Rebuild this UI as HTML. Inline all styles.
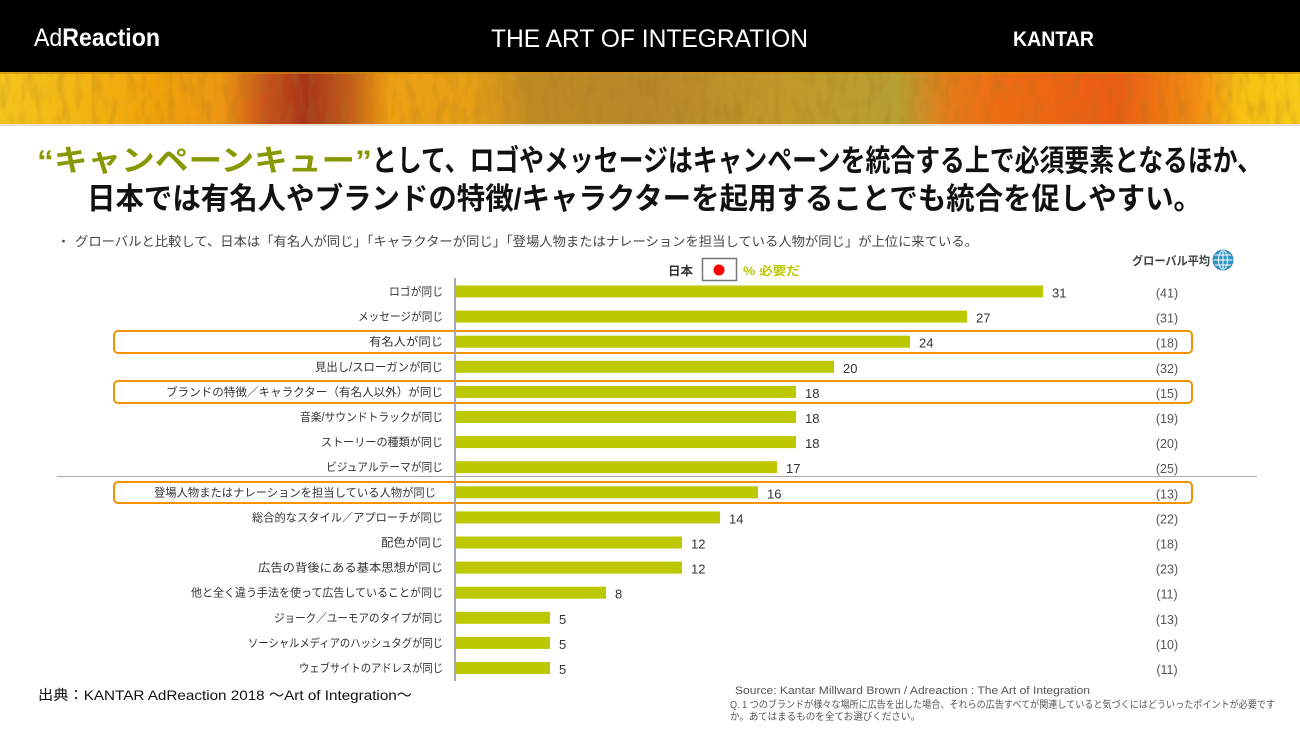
<!DOCTYPE html>
<html>
<head>
<meta charset="utf-8">
<style>
  html,body{margin:0;padding:0;background:#fff;}
  body{width:1300px;height:731px;overflow:hidden;}
  svg{display:block;}
  .jp{font-family:"Liberation Sans","Noto Sans CJK JP",sans-serif;}
</style>
</head>
<body>
<svg width="1300" height="731" viewBox="0 0 1300 731" xmlns="http://www.w3.org/2000/svg">
  <defs>
    <linearGradient id="paint" x1="0" y1="0" x2="1" y2="0">
      <stop offset="0" stop-color="#f5c41c"/>
      <stop offset="0.06" stop-color="#f3b612"/>
      <stop offset="0.12" stop-color="#f0a10a"/>
      <stop offset="0.17" stop-color="#ee9812"/>
      <stop offset="0.205" stop-color="#c8521a"/>
      <stop offset="0.235" stop-color="#a8341a"/>
      <stop offset="0.27" stop-color="#c45e18"/>
      <stop offset="0.30" stop-color="#efa012"/>
      <stop offset="0.36" stop-color="#e6a014"/>
      <stop offset="0.41" stop-color="#c08a22"/>
      <stop offset="0.50" stop-color="#b8882a"/>
      <stop offset="0.60" stop-color="#c29a28"/>
      <stop offset="0.69" stop-color="#b8a032"/>
      <stop offset="0.73" stop-color="#e47c18"/>
      <stop offset="0.77" stop-color="#f06c12"/>
      <stop offset="0.86" stop-color="#ec5c12"/>
      <stop offset="0.92" stop-color="#f28c12"/>
      <stop offset="0.955" stop-color="#f8c012"/>
      <stop offset="1" stop-color="#f8ca18"/>
    </linearGradient>
    <filter id="tex" x="0" y="0" width="100%" height="100%">
      <feTurbulence type="fractalNoise" baseFrequency="0.12 0.04" numOctaves="2" seed="4"/>
      <feColorMatrix type="matrix" values="0 0 0 0 0.35  0 0 0 0 0.18  0 0 0 0 0.02  0 0 0 1.6 -0.7"/>
    </filter>
  </defs>

  <!-- Header -->
  <rect x="0" y="0" width="1300" height="72" fill="#000"/>
  <text x="34" y="46" font-family="Liberation Sans, sans-serif" font-size="25" fill="#fff" textLength="126" lengthAdjust="spacingAndGlyphs"><tspan font-weight="normal">Ad</tspan><tspan font-weight="bold">Reaction</tspan></text>
  <text x="491" y="47" font-family="Liberation Sans, sans-serif" font-size="25" fill="#fff" textLength="317" lengthAdjust="spacingAndGlyphs">THE ART OF INTEGRATION</text>
  <text x="1013" y="46" font-family="Liberation Sans, sans-serif" font-size="21" font-weight="bold" fill="#fff" textLength="81" lengthAdjust="spacingAndGlyphs">KANTAR</text>

  <!-- Painting band -->
  <rect x="0" y="72" width="1300" height="53" fill="url(#paint)"/>
  <rect x="0" y="72" width="1300" height="53" filter="url(#tex)" opacity="0.45"/>
  <rect x="0" y="72" width="1300" height="2" fill="#c88a10" opacity="0.6"/>
  <rect x="0" y="124" width="1300" height="2" fill="#e8e0d0"/>

  <!-- Title -->
  <text class="jp" x="37" y="171" font-size="30" font-weight="bold" fill="#879800" textLength="335" lengthAdjust="spacingAndGlyphs">“キャンペーンキュー”</text>
  <text class="jp" x="372" y="171" font-size="30" font-weight="bold" fill="#111" textLength="890" lengthAdjust="spacingAndGlyphs">として、ロゴやメッセージはキャンペーンを統合する上で必須要素となるほか、</text>
  <text class="jp" x="87" y="209" font-size="30" font-weight="bold" fill="#111" textLength="1115" lengthAdjust="spacingAndGlyphs">日本では有名人やブランドの特徴/キャラクターを起用することでも統合を促しやすい。</text>

  <!-- Bullet -->
  <text class="jp" x="57" y="246" font-size="13" fill="#444">・</text>
  <text class="jp" x="75" y="246" font-size="13" fill="#444" textLength="903" lengthAdjust="spacingAndGlyphs">グローバルと比較して、日本は「有名人が同じ」「キャラクターが同じ」「登場人物またはナレーションを担当している人物が同じ」が上位に来ている。</text>

  <!-- Legend -->
  <text class="jp" x="668" y="275" font-size="12" font-weight="bold" fill="#333" textLength="25" lengthAdjust="spacingAndGlyphs">日本</text>
  <rect x="702.5" y="258.5" width="34" height="22" fill="#fff" stroke="#777" stroke-width="1.5"/>
  <circle cx="719" cy="270" r="5.5" fill="#f00"/>
  <text class="jp" x="743" y="275" font-size="12" font-weight="bold" fill="#bcc800" textLength="57" lengthAdjust="spacingAndGlyphs">% 必要だ</text>

  <text class="jp" x="1132" y="265" font-size="12" font-weight="bold" fill="#444" textLength="78" lengthAdjust="spacingAndGlyphs">グローバル平均</text>
  <g transform="translate(1223,260)">
    <circle r="10" fill="#2f96c6"/>
    <g fill="none" stroke="#fff" stroke-width="1">
      <ellipse rx="4.5" ry="9.5"/>
      <line x1="0" y1="-10" x2="0" y2="10"/>
      <line x1="-10" y1="0" x2="10" y2="0"/>
      <line x1="-8.7" y1="-5" x2="8.7" y2="-5"/>
      <line x1="-8.7" y1="5" x2="8.7" y2="5"/>
    </g>
    <circle r="10" fill="none" stroke="#1f7fae" stroke-width="0.8"/>
  </g>

  <!-- Separator line -->
  <line x1="57" y1="476.5" x2="1257" y2="476.5" stroke="#a8a8a8" stroke-width="1"/>

  <!-- Orange highlight boxes -->
  <g fill="none" stroke="#f39200" stroke-width="2">
    <rect x="114" y="331" width="1078" height="22" rx="4"/>
    <rect x="114" y="381" width="1078" height="22" rx="4"/>
    <rect x="114" y="482" width="1078" height="21" rx="4"/>
  </g>

  <!-- Bars -->
  <g fill="#bec800">
    <rect x="456" y="285.5" width="587" height="12"/>
    <rect x="456" y="310.6" width="511" height="12"/>
    <rect x="456" y="335.7" width="454" height="12"/>
    <rect x="456" y="360.8" width="378" height="12"/>
    <rect x="456" y="385.9" width="340" height="12"/>
    <rect x="456" y="411" width="340" height="12"/>
    <rect x="456" y="436.1" width="340" height="12"/>
    <rect x="456" y="461.2" width="321" height="12"/>
    <rect x="456" y="486.3" width="302" height="12"/>
    <rect x="456" y="511.4" width="264" height="12"/>
    <rect x="456" y="536.5" width="226" height="12"/>
    <rect x="456" y="561.6" width="226" height="12"/>
    <rect x="456" y="586.7" width="150" height="12"/>
    <rect x="456" y="611.8" width="94" height="12"/>
    <rect x="456" y="636.9" width="94" height="12"/>
    <rect x="456" y="662" width="94" height="12"/>
  </g>

  <!-- Axis -->
  <line x1="455" y1="278" x2="455" y2="681" stroke="#a0a8b6" stroke-width="2"/>

  <!-- Category labels -->
  <g class="jp" font-size="11.5" fill="#333">
    <text x="389" y="295.5" textLength="54" lengthAdjust="spacingAndGlyphs">ロゴが同じ</text>
    <text x="358" y="320.6" textLength="85" lengthAdjust="spacingAndGlyphs">メッセージが同じ</text>
    <text x="369" y="345.7" textLength="74" lengthAdjust="spacingAndGlyphs">有名人が同じ</text>
    <text x="315" y="370.8" textLength="128" lengthAdjust="spacingAndGlyphs">見出し/スローガンが同じ</text>
    <text x="166" y="395.9" textLength="277" lengthAdjust="spacingAndGlyphs">ブランドの特徴／キャラクター（有名人以外）が同じ</text>
    <text x="300" y="421" textLength="143" lengthAdjust="spacingAndGlyphs">音楽/サウンドトラックが同じ</text>
    <text x="321" y="446.1" textLength="122" lengthAdjust="spacingAndGlyphs">ストーリーの種類が同じ</text>
    <text x="326" y="471.2" textLength="117" lengthAdjust="spacingAndGlyphs">ビジュアルテーマが同じ</text>
    <text x="154" y="496.3" textLength="282" lengthAdjust="spacingAndGlyphs">登場人物またはナレーションを担当している人物が同じ</text>
    <text x="252" y="521.4" textLength="191" lengthAdjust="spacingAndGlyphs">総合的なスタイル／アプローチが同じ</text>
    <text x="381" y="546.5" textLength="62" lengthAdjust="spacingAndGlyphs">配色が同じ</text>
    <text x="258" y="571.6" textLength="185" lengthAdjust="spacingAndGlyphs">広告の背後にある基本思想が同じ</text>
    <text x="191" y="596.7" textLength="252" lengthAdjust="spacingAndGlyphs">他と全く違う手法を使って広告していることが同じ</text>
    <text x="274" y="621.8" textLength="169" lengthAdjust="spacingAndGlyphs">ジョーク／ユーモアのタイプが同じ</text>
    <text x="248" y="646.9" textLength="195" lengthAdjust="spacingAndGlyphs">ソーシャルメディアのハッシュタグが同じ</text>
    <text x="299" y="672" textLength="144" lengthAdjust="spacingAndGlyphs">ウェブサイトのアドレスが同じ</text>
  </g>

  <!-- Values -->
  <g font-family="Liberation Sans, sans-serif" font-size="13" fill="#333">
    <text x="1052" y="297.5">31</text>
    <text x="976" y="322.6">27</text>
    <text x="919" y="347.7">24</text>
    <text x="843" y="372.8">20</text>
    <text x="805" y="397.9">18</text>
    <text x="805" y="423">18</text>
    <text x="805" y="448.1">18</text>
    <text x="786" y="473.2">17</text>
    <text x="767" y="498.3">16</text>
    <text x="729" y="523.4">14</text>
    <text x="691" y="548.5">12</text>
    <text x="691" y="573.6">12</text>
    <text x="615" y="598.7">8</text>
    <text x="559" y="623.8">5</text>
    <text x="559" y="648.9">5</text>
    <text x="559" y="674">5</text>
  </g>

  <!-- Global values -->
  <g font-family="Liberation Sans, sans-serif" font-size="12.5" fill="#555" text-anchor="middle">
    <text x="1167" y="297.5">(41)</text>
    <text x="1167" y="322.6">(31)</text>
    <text x="1167" y="347.7">(18)</text>
    <text x="1167" y="372.8">(32)</text>
    <text x="1167" y="397.9">(15)</text>
    <text x="1167" y="423">(19)</text>
    <text x="1167" y="448.1">(20)</text>
    <text x="1167" y="473.2">(25)</text>
    <text x="1167" y="498.3">(13)</text>
    <text x="1167" y="523.4">(22)</text>
    <text x="1167" y="548.5">(18)</text>
    <text x="1167" y="573.6">(23)</text>
    <text x="1167" y="598.7">(11)</text>
    <text x="1167" y="623.8">(13)</text>
    <text x="1167" y="648.9">(10)</text>
    <text x="1167" y="674">(11)</text>
  </g>

  <!-- Footer -->
  <text class="jp" x="38" y="700" font-size="14" fill="#111" textLength="374" lengthAdjust="spacingAndGlyphs">出典：KANTAR AdReaction 2018 ～Art of Integration～</text>
  <text x="735" y="694" font-family="Liberation Sans, sans-serif" font-size="11" fill="#555" textLength="355" lengthAdjust="spacingAndGlyphs">Source: Kantar Millward Brown / Adreaction : The Art of Integration</text>
  <text class="jp" x="730" y="708" font-size="10" fill="#555" textLength="545" lengthAdjust="spacingAndGlyphs">Q. 1 つのブランドが様々な場所に広告を出した場合、それらの広告すべてが関連していると気づくにはどういったポイントが必要です</text>
  <text class="jp" x="730" y="720" font-size="10" fill="#555" textLength="190" lengthAdjust="spacingAndGlyphs">か。あてはまるものを全てお選びください。</text>
</svg>
</body>
</html>
